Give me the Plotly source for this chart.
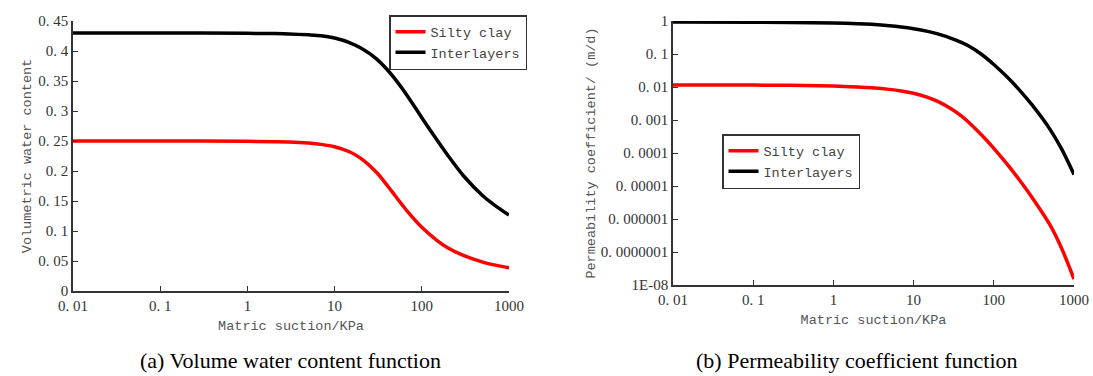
import plotly.graph_objects as go

# ---- data ----
suction = [0.01, 0.1, 1, 2, 3, 5, 7, 10, 15, 20, 30, 40, 50, 70, 100, 150, 200, 300, 500, 700, 1000]
theta_silty = [0.25, 0.25, 0.2495, 0.2489, 0.2484, 0.2466, 0.2444, 0.2405, 0.2317, 0.2211, 0.1982, 0.1763,
               0.1579, 0.1309, 0.1061, 0.0841, 0.0716, 0.0593, 0.0482, 0.0431, 0.0388]
theta_inter = [0.43, 0.43, 0.4295, 0.429, 0.4285, 0.427, 0.4255, 0.4216, 0.4137, 0.4049, 0.3873, 0.3692,
               0.3522, 0.3230, 0.2889, 0.2511, 0.2255, 0.1921, 0.1588, 0.142, 0.1265]
k_silty = [0.0115, 0.0114, 0.0108, 0.01007, 0.00948, 0.00847, 0.0076, 0.00647, 0.00488, 0.00366, 0.00211,
           0.00128, 0.000798, 0.000356, 0.000139, 0.0000429, 0.0000175, 0.0000045, 0.00000067,
           0.00000013, 0.0000000152]
k_inter = [0.93, 0.92, 0.871, 0.83, 0.791, 0.721, 0.661, 0.585, 0.485, 0.406, 0.294, 0.220, 0.169, 0.0984,
           0.0482, 0.019, 0.0091, 0.00286, 0.00053, 0.000133, 0.0000224]

x_tickvals = [0.01, 0.1, 1, 10, 100, 1000]
x_ticktext = ["0. 01", "0. 1", "1", "10", "100", "1000"]
y1_tickvals = [0, 0.05, 0.1, 0.15, 0.2, 0.25, 0.3, 0.35, 0.4, 0.45]
y1_ticktext = ["0", "0. 05", "0. 1", "0. 15", "0. 2", "0. 25", "0. 3", "0. 35", "0. 4", "0. 45"]
y2_tickvals = [1, 0.1, 0.01, 0.001, 0.0001, 0.00001, 0.000001, 0.0000001, 0.00000001]
y2_ticktext = ["1", "0. 1", "0. 01", "0. 001", "0. 0001", "0. 00001", "0. 000001", "0. 0000001", "1E-08"]

series_names = ["Silty clay", "Interlayers"]
series_colors = ["#ff0000", "#000000"]

W, H = 1093, 376
def px_x(p): return p / W
def px_y(p): return 1 - p / H

fig = go.Figure()
for name, col, ys in zip(series_names, series_colors, [theta_silty, theta_inter]):
    fig.add_trace(go.Scatter(x=suction, y=ys, mode="lines", name=name,
                             line=dict(color=col, width=3.5, shape="spline", smoothing=0.8),
                             xaxis="x", yaxis="y", legend="legend"))
for name, col, ys in zip(series_names, series_colors, [k_silty, k_inter]):
    fig.add_trace(go.Scatter(x=suction, y=ys, mode="lines", name=name,
                             line=dict(color=col, width=3.5, shape="spline", smoothing=0.8),
                             xaxis="x2", yaxis="y2", legend="legend2"))

tickfont = dict(family="'Liberation Serif', serif", size=15, color="#333333")
titlefont = dict(family="'Liberation Mono', monospace", size=13.5, color="#555555")
axcommon = dict(showline=True, linecolor="#333333", linewidth=1.5, ticks="inside", ticklen=5,
                tickcolor="#333333", tickwidth=1.2, showgrid=False, zeroline=False, mirror=False,
                tickfont=tickfont, automargin=False)

legfont = dict(family="'Liberation Mono', monospace", size=13.5, color="#444444")

fig.update_layout(
    width=W, height=H, margin=dict(l=0, r=0, t=0, b=0, autoexpand=False),
    paper_bgcolor="white", plot_bgcolor="white",
    xaxis=dict(type="log", range=[-2, 3], domain=[px_x(73), px_x(509)], anchor="y",
               tickvals=x_tickvals, ticktext=x_ticktext,
               title=dict(text="Matric suction/KPa", font=titlefont, standoff=8), **axcommon),
    yaxis=dict(range=[0, 0.45], domain=[px_y(291), px_y(21)], anchor="x",
               tickvals=y1_tickvals, ticktext=y1_ticktext,
               title=dict(text="Volumetric water content", font=titlefont, standoff=4), **axcommon),
    xaxis2=dict(type="log", range=[-2, 3], domain=[px_x(673), px_x(1074)], anchor="y2",
                tickvals=x_tickvals, ticktext=x_ticktext,
                title=dict(text="Matric suction/KPa", font=titlefont, standoff=8), **axcommon),
    yaxis2=dict(type="log", range=[-8, 0], domain=[px_y(285), px_y(21)], anchor="x2",
                tickvals=y2_tickvals, ticktext=y2_ticktext,
                title=dict(text="Permeability coefficient/ (m/d)", font=titlefont, standoff=2), **axcommon),
    legend=dict(x=px_x(389), y=px_y(15), xanchor="left", yanchor="top",
                bordercolor="#333333", borderwidth=1.5, bgcolor="white",
                font=legfont, tracegroupgap=0, itemwidth=30),
    legend2=dict(x=px_x(722), y=px_y(134), xanchor="left", yanchor="top",
                 bordercolor="#333333", borderwidth=1.5, bgcolor="white",
                 font=legfont, tracegroupgap=0, itemwidth=30),
    annotations=[
        dict(text="(a) Volume water content function", x=px_x(290), y=px_y(360), xref="paper", yref="paper",
             showarrow=False, font=dict(family="'Liberation Serif', serif", size=22, color="#000000"),
             xanchor="center", yanchor="middle"),
        dict(text="(b) Permeability coefficient function", x=px_x(857), y=px_y(360), xref="paper", yref="paper",
             showarrow=False, font=dict(family="'Liberation Serif', serif", size=22, color="#000000"),
             xanchor="center", yanchor="middle"),
    ],
)

fig.write_html("out.html")
